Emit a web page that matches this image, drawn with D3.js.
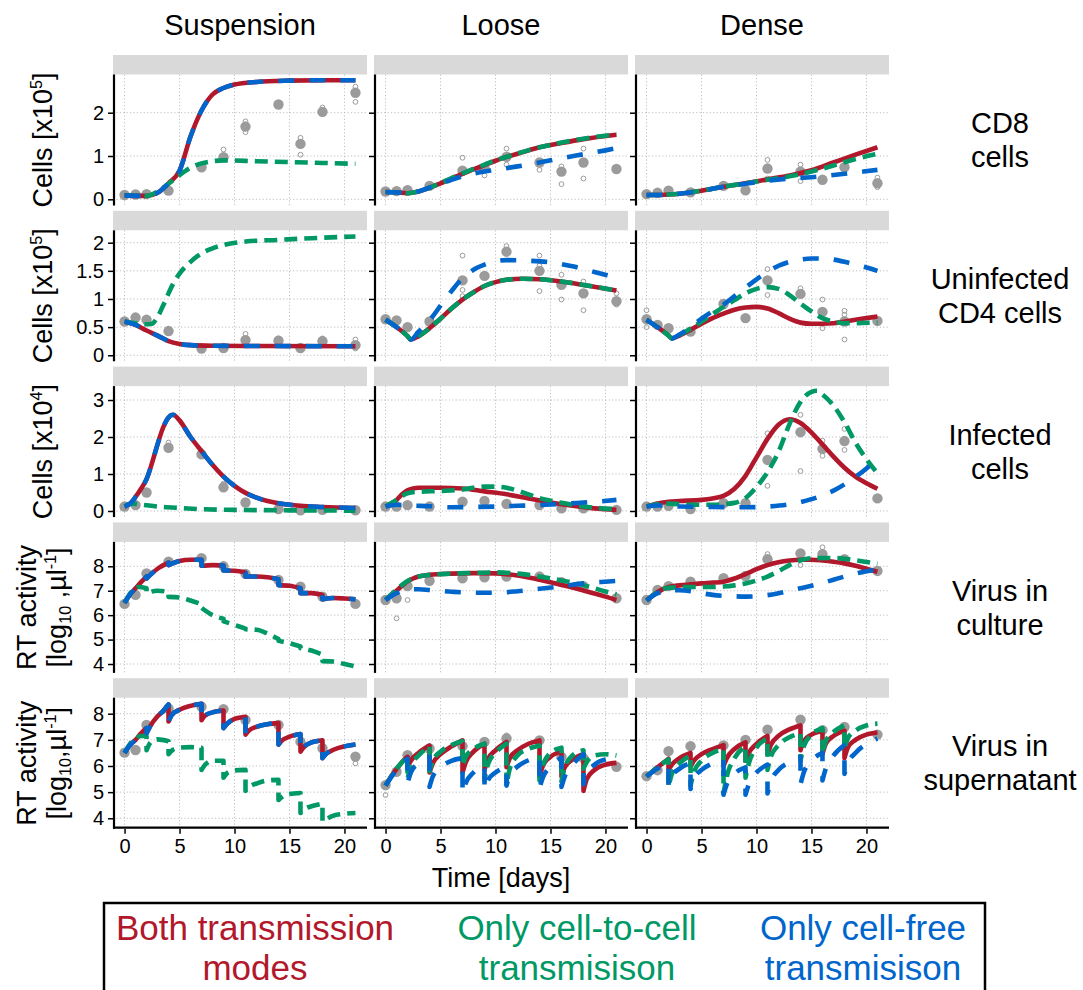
<!DOCTYPE html>
<html><head><meta charset="utf-8">
<script src="https://cdn.jsdelivr.net/npm/d3@7"></script>
<style>body{margin:0;background:#fff}svg{display:block}text{font-family:"Liberation Sans",Arial,Helvetica,sans-serif;fill:#000}</style>
</head><body><svg id="c" width="1083" height="990"></svg>
<script>
// ---------------- DATA ----------------
const days = [0,1,2,4,7,9,11,14,16,18,21];
const columns = ["Suspension","Loose","Dense"];
const xTicks = [0,5,10,15,20];

// Row 1: CD8 cells (x10^5)
const cd8Ticks = [0,1,2];
const cd8TickLabels = ["0","1","2"];
const cd8Lim = [-0.143, 2.882];
const cd8SuspMean = [0.10,0.11,0.12,0.20,0.74,0.97,1.68,2.19,1.28,2.02,2.46];
const cd8SuspReps = [[7,0.7],[9,1.15],[11,1.8],[11,1.55],[16,1.42],[16,1.03],[18,2.12],[18,1.97],[21,2.6],[21,2.25]];
const cd8SuspBoth = [[0,0.09],[1,0.08],[2,0.08],[3,0.15],[4,0.37],[5,0.66],[6,1.45],[7,2.05],[8,2.42],[9,2.57],[10,2.65],[12,2.71],[15,2.74],[18,2.75],[21,2.75]];
const cd8SuspCtc = [[0,0.09],[2,0.08],[3,0.18],[4,0.36],[5,0.56],[6,0.73],[7,0.83],[8,0.88],[9,0.9],[12,0.88],[15,0.86],[18,0.84],[21,0.82]];
const cd8SuspFree = [[0,0.09],[1,0.08],[2,0.08],[3,0.15],[4,0.37],[5,0.66],[6,1.45],[7,2.05],[8,2.42],[9,2.57],[10,2.65],[12,2.71],[15,2.74],[18,2.75],[21,2.75]];
const cd8LooseMean = [0.18,0.19,0.21,0.31,0.66,0.72,0.98,0.85,0.64,0.85,0.70];
const cd8LooseReps = [[7,0.96],[9,0.55],[11,1.17],[11,0.8],[14,0.68],[16,0.76],[16,0.35],[18,1.17],[18,0.48]];
const cd8LooseBoth = [[0,0.17],[1,0.16],[2,0.14],[3,0.18],[4,0.27],[5,0.37],[6,0.48],[7,0.59],[8,0.69],[9,0.79],[10,0.89],[11,0.98],[12,1.05],[14,1.2],[16,1.3],[18,1.39],[21,1.49]];
const cd8LooseCtc = [[0,0.17],[1,0.16],[2,0.14],[3,0.18],[4,0.27],[5,0.37],[6,0.49],[7,0.6],[8,0.7],[9,0.8],[10,0.9],[11,0.98],[12,1.06],[14,1.2],[16,1.31],[18,1.4],[21,1.5]];
const cd8LooseFree = [[0,0.17],[1,0.16],[2,0.14],[3,0.18],[4,0.27],[5,0.36],[6,0.45],[7,0.53],[8,0.59],[9,0.64],[10,0.68],[12,0.76],[14,0.85],[16,0.95],[18,1.04],[20,1.13],[21,1.18]];
const cd8DenseMean = [0.12,0.15,0.20,0.16,0.31,0.21,0.71,0.64,0.45,0.74,0.37];
const cd8DenseReps = [[11,0.91],[11,0.48],[14,0.8],[14,0.42],[21,0.5],[21,0.28]];
const cd8DenseBoth = [[0,0.1],[1,0.1],[2,0.11],[3,0.13],[5,0.2],[7,0.29],[9,0.37],[11,0.46],[13,0.55],[15,0.67],[17,0.85],[19,1.03],[21,1.2]];
const cd8DenseCtc = [[0,0.1],[1,0.1],[2,0.11],[3,0.13],[5,0.2],[7,0.29],[9,0.37],[11,0.45],[13,0.53],[15,0.64],[17,0.78],[19,0.93],[21,1.05]];
const cd8DenseFree = [[0,0.1],[1,0.1],[2,0.11],[3,0.13],[5,0.2],[7,0.29],[9,0.36],[11,0.43],[13,0.48],[15,0.51],[17,0.56],[19,0.62],[21,0.68]];

// Row 2: uninfected CD4 cells (x10^5)
const cd4Ticks = [0,0.5,1,1.5,2];
const cd4TickLabels = ["0","0.5","1","1.5","2"];
const cd4Lim = [-0.107, 2.22];
const cd4SuspMean = [0.60,0.67,0.63,0.43,0.12,0.13,0.27,0.26,0.13,0.25,0.18];
const cd4SuspReps = [[11,0.38],[14,0.3],[18,0.3],[21,0.28],[21,0.12]];
const cd4SuspBoth = [[0,0.6],[1,0.54],[2,0.44],[3,0.35],[4,0.25],[5,0.2],[6,0.18],[8,0.17],[12,0.165],[21,0.16]];
const cd4SuspCtc = [[0,0.6],[1,0.57],[2,0.55],[2.5,0.56],[3,0.68],[3.5,0.88],[4,1.1],[4.5,1.3],[5,1.45],[6,1.66],[7,1.81],[8,1.9],[9,1.96],[11,2.02],[14,2.05],[17,2.08],[21,2.11]];
const cd4SuspFree = [[0,0.6],[1,0.54],[2,0.44],[3,0.35],[4,0.25],[5,0.2],[6,0.18],[8,0.17],[12,0.165],[21,0.16]];
const cd4LooseMean = [0.64,0.62,0.50,0.60,1.33,1.41,1.84,1.50,1.25,1.10,0.96];
const cd4LooseReps = [[7,1.77],[7,1.16],[7,1.05],[11,1.94],[14,1.77],[14,1.59],[14,1.14],[16,1.43],[16,0.99],[18,1.31],[18,0.8],[21,1.1],[21,0.9]];
const cd4LooseBoth = [[0,0.63],[1,0.5],[2,0.34],[2.3,0.28],[3,0.34],[4,0.48],[5,0.65],[6,0.83],[7,0.99],[8,1.12],[9,1.23],[10,1.3],[11,1.34],[12.5,1.36],[14,1.35],[16,1.31],[18,1.25],[21,1.15]];
const cd4LooseCtc = [[0,0.63],[1,0.5],[2,0.34],[2.3,0.28],[3,0.34],[4,0.48],[5,0.65],[6,0.83],[7,0.99],[8,1.12],[9,1.23],[10,1.3],[11,1.34],[12.5,1.36],[14,1.35],[16,1.31],[18,1.25],[21,1.15]];
const cd4LooseFree = [[0,0.63],[1,0.5],[2,0.33],[2.3,0.28],[3,0.42],[4,0.62],[5,0.88],[6,1.14],[7,1.37],[8,1.52],[9,1.61],[10,1.67],[11,1.69],[13,1.68],[15,1.65],[17,1.58],[19,1.48],[21,1.38]];
const cd4DenseMean = [0.64,0.54,0.48,0.42,0.91,0.66,1.33,1.09,0.77,0.60,0.61];
const cd4DenseReps = [[0,0.8],[0,0.5],[11,1.53],[11,1.07],[14,1.19],[16,0.99],[16,0.48],[18,0.79],[18,0.72],[18,0.28]];
const cd4DenseBoth = [[0,0.63],[1,0.5],[2,0.35],[2.3,0.3],[3,0.35],[4,0.45],[5,0.56],[6,0.66],[7,0.74],[8,0.81],[9,0.85],[10,0.86],[11,0.83],[12,0.75],[13,0.65],[14,0.58],[15,0.56],[17,0.57],[19,0.63],[21,0.69]];
const cd4DenseCtc = [[0,0.63],[1,0.5],[2,0.35],[2.3,0.3],[3,0.36],[4,0.47],[5,0.6],[6,0.73],[7,0.86],[8,0.98],[9,1.1],[10,1.18],[11,1.21],[12,1.18],[13,1.07],[14,0.92],[15,0.78],[16,0.66],[17,0.6],[18,0.57],[21,0.58]];
const cd4DenseFree = [[0,0.63],[1,0.5],[2,0.35],[2.3,0.3],[3,0.37],[4,0.5],[5,0.65],[6,0.78],[7,0.9],[8,1.05],[9,1.2],[10,1.35],[11,1.48],[12,1.59],[13,1.66],[14,1.7],[15,1.72],[16,1.72],[17,1.7],[18,1.66],[19,1.61],[20,1.56],[21,1.5]];

// Row 3: infected cells (x10^4)
const infTicks = [0,1,2,3];
const infTickLabels = ["0","1","2","3"];
const infLim = [-0.165, 3.376];
const infSuspMean = [0.12,0.16,0.50,1.71,1.53,0.64,0.23,0.05,0.02,0.03,0.02];
const infSuspReps = [[4,1.85],[7,1.62],[9,0.74]];
const infSuspBoth = [[0,0.12],[0.5,0.2],[1,0.38],[1.5,0.6],[2,0.86],[2.5,1.3],[3,1.8],[3.5,2.25],[4,2.53],[4.4,2.6],[5,2.45],[6,2.0],[7,1.62],[8,1.25],[9,0.93],[10,0.68],[11,0.49],[12,0.36],[13,0.27],[14,0.21],[16,0.14],[18,0.11],[21,0.08]];
const infSuspCtc = [[0,0.13],[0.7,0.2],[1.5,0.17],[3,0.12],[5,0.08],[7,0.05],[10,0.03],[14,0.02],[21,0.01]];
const infSuspFree = [[0,0.12],[0.5,0.2],[1,0.38],[1.5,0.6],[2,0.86],[2.5,1.3],[3,1.8],[3.5,2.25],[4,2.53],[4.4,2.6],[5,2.45],[6,2.0],[7,1.62],[8,1.25],[9,0.93],[10,0.68],[11,0.49],[12,0.36],[13,0.27],[14,0.21],[16,0.14],[18,0.11],[21,0.08]];
const infLooseMean = [0.12,0.12,0.16,0.12,0.25,0.27,0.19,0.16,0.07,0.07,0.03];
const infLooseReps = [];
const infLooseBoth = [[0,0.12],[0.5,0.2],[1,0.3],[1.5,0.45],[2,0.56],[2.5,0.61],[3,0.63],[5,0.63],[7,0.61],[9,0.53],[11,0.45],[13,0.34],[15,0.23],[17,0.14],[19,0.07],[21,0.03]];
const infLooseCtc = [[0,0.12],[1,0.3],[2,0.48],[3,0.52],[5,0.54],[7,0.58],[8,0.63],[9,0.66],[10,0.66],[11,0.63],[12,0.55],[13,0.45],[14,0.35],[15,0.28],[16,0.22],[18,0.12],[21,0.05]];
const infLooseFree = [[0,0.12],[1,0.17],[2,0.15],[4,0.13],[6,0.1],[8,0.11],[10,0.12],[12,0.14],[14,0.16],[16,0.19],[18,0.23],[19.5,0.26],[21,0.3]];
const infDenseMean = [0.12,0.12,0.14,0.05,0.21,0.21,1.38,2.13,1.68,1.89,0.34];
const infDenseReps = [[11,2.1],[11,0.68],[14,2.6],[14,1.08],[16,1.9],[16,1.49],[18,2.22],[18,1.65]];
const infDenseBoth = [[0,0.12],[1,0.2],[2,0.25],[3,0.27],[5,0.3],[6,0.34],[7,0.41],[8,0.6],[9,0.95],[10,1.45],[11,1.95],[12,2.33],[13,2.48],[14,2.38],[15,2.12],[16,1.8],[17,1.47],[18,1.17],[19,0.93],[20,0.75],[21,0.6]];
const infDenseCtc = [[0,0.12],[1,0.18],[2,0.2],[4,0.17],[6,0.17],[8,0.22],[9,0.35],[10,0.65],[11,1.05],[12,1.6],[13,2.35],[14,2.95],[15,3.22],[15.5,3.25],[16,3.15],[17,2.85],[18,2.4],[19,1.85],[20,1.4],[21,1.02]];
const infDenseFree = [[0,0.12],[1,0.15],[3,0.12],[6,0.11],[9,0.1],[11,0.12],[13,0.18],[14,0.24],[15,0.32],[16,0.42],[17,0.55],[18,0.72],[19,0.92],[20,1.15],[21,1.42]];

// Row 4: virus in culture, RT activity (log10 /ul)
const rtcTicks = [4,5,6,7,8];
const rtcTickLabels = ["4","5","6","7","8"];
const rtcLim = [3.636, 8.999];
const rtcSuspMean = [6.46,6.83,7.71,8.19,8.33,8.00,7.69,7.44,7.17,6.76,6.46];
const rtcSuspReps = [];
const rtcSuspBoth = [
  [[0,6.5],[0.5,6.85],[1,7.1],[1.5,7.35],[2,7.58]],
  [[2,7.5],[3,7.9],[4,8.15]],
  [[4,8.05],[5,8.22],[6,8.27],[7,8.27]],
  [[7,8.02],[8,8.05],[9,8.03]],
  [[9,7.83],[10,7.82],[11,7.75]],
  [[11,7.58],[12,7.58],[13,7.55],[14,7.47]],
  [[14,7.23],[15,7.2],[16,7.1]],
  [[16,6.9],[17,6.9],[18,6.83]],
  [[18,6.65],[19,6.7],[20,6.68],[21,6.65]]];
const rtcSuspCtc = [
  [[0,6.5],[0.7,7.0],[1.3,7.15],[2,7.1]],
  [[2,6.9],[3,7.0],[4,6.95]],
  [[4,6.75],[5,6.72],[6,6.6],[7,6.45]],
  [[7,6.3],[8,6.0],[9,5.85]],
  [[9,5.75],[10,5.6],[11,5.45]],
  [[11,5.42],[12,5.4],[13,5.25],[14,5.02]],
  [[14,4.95],[15,4.85],[16,4.72]],
  [[16,4.65],[17,4.55],[18,4.38]],
  [[18,4.12],[19,4.1],[20,4.0],[21,3.9]]];
const rtcSuspFree = [
  [[0,6.5],[0.5,6.85],[1,7.1],[1.5,7.35],[2,7.58]],
  [[2,7.5],[3,7.9],[4,8.15]],
  [[4,8.05],[5,8.22],[6,8.27],[7,8.27]],
  [[7,8.02],[8,8.05],[9,8.03]],
  [[9,7.83],[10,7.82],[11,7.75]],
  [[11,7.58],[12,7.58],[13,7.55],[14,7.47]],
  [[14,7.23],[15,7.2],[16,7.1]],
  [[16,6.9],[17,6.9],[18,6.83]],
  [[18,6.65],[19,6.7],[20,6.68],[21,6.65]]];
const rtcLooseMean = [6.62,6.69,7.19,7.41,7.51,7.55,7.58,7.58,7.35,7.19,6.69];
const rtcLooseReps = [[1,5.87],[2,6.62]];
const rtcLooseBoth = [[0,6.62],[0.5,6.82],[1,7.0],[1.5,7.2],[2,7.38],[2.5,7.5],[3,7.58],[4,7.65],[6,7.7],[8,7.72],[10,7.71],[11,7.68],[12,7.62],[13,7.54],[14,7.45],[15,7.35],[16,7.24],[17,7.13],[18,7.01],[19,6.89],[20,6.76],[21,6.62]];
const rtcLooseCtc = [[0,6.62],[1,7.05],[2,7.4],[3,7.58],[4,7.65],[6,7.7],[8,7.73],[10,7.75],[12,7.7],[13,7.65],[14,7.58],[15,7.5],[16,7.42],[17,7.33],[18,7.23],[19,7.1],[20,6.97],[21,6.85]];
const rtcLooseFree = [[0,6.62],[1,6.9],[2,7.05],[3,7.06],[4,7.03],[6,6.96],[8,6.92],[10,6.92],[12,6.98],[14,7.08],[16,7.18],[18,7.3],[20,7.37],[21,7.4]];
const rtcDenseMean = [6.62,7.03,7.19,7.37,7.51,7.60,8.29,8.53,8.50,8.29,7.81];
const rtcDenseReps = [[11,8.5],[14,8.05],[16,8.78]];
const rtcDenseBoth = [[0,6.6],[1,6.95],[2,7.15],[3,7.22],[4,7.26],[5,7.3],[6,7.33],[7,7.37],[8,7.5],[9,7.68],[10,7.88],[11,8.05],[12,8.17],[13,8.24],[14,8.27],[15,8.27],[16,8.24],[17,8.19],[18,8.12],[19,8.02],[20,7.9],[21,7.78]];
const rtcDenseCtc = [[0,6.6],[1,6.95],[2,7.12],[4,7.15],[6,7.15],[7,7.17],[8,7.22],[9,7.3],[10,7.42],[11,7.58],[12,7.8],[13,8.05],[14,8.25],[15,8.33],[17,8.34],[19,8.25],[21,8.1]];
const rtcDenseFree = [[0,6.6],[1,6.9],[2,7.0],[3,7.02],[4,6.98],[5,6.9],[6,6.83],[7,6.79],[8,6.77],[9,6.76],[10,6.77],[11,6.82],[12,6.9],[13,7.0],[14,7.1],[15,7.2],[16,7.32],[17,7.45],[18,7.58],[19,7.7],[20,7.8],[21,7.88]];

// Row 5: virus in supernatant, RT activity (log10 /ul)
const rtsTicks = [4,5,6,7,8];
const rtsTickLabels = ["4","5","6","7","8"];
const rtsLim = [3.602, 8.612];
const rtsSuspMean = [6.51,6.61,7.57,8.20,8.27,8.17,7.76,7.57,6.93,6.68,6.36];
const rtsSuspReps = [[21,6.1]];
const rtsSuspBoth = [
  [[0,6.5],[0.5,6.8],[1,7.0],[1.5,7.25],[2,7.45]],
  [[2,7.25],[2.3,7.5],[3,7.9],[3.5,8.1],[4,8.35]],
  [[4,7.7],[4.3,7.95],[5,8.15],[6,8.3],[7,8.38]],
  [[7,7.75],[7.3,7.92],[8,8.05],[9,8.12]],
  [[9,7.45],[9.3,7.6],[10,7.8],[11,7.88]],
  [[11,7.2],[11.3,7.35],[12,7.5],[13,7.6],[14,7.64]],
  [[14,6.82],[14.3,6.97],[15,7.12],[16,7.22]],
  [[16,6.55],[16.3,6.72],[17,6.9],[18,6.98]],
  [[18,6.3],[18.3,6.45],[19,6.62],[20,6.75],[21,6.82]]];
const rtsSuspCtc = [
  [[0,6.5],[0.5,6.85],[1,7.05],[1.5,7.15],[2,7.15]],
  [[2,6.6],[2.4,6.92],[3,7.02],[4,6.95]],
  [[4,6.45],[4.4,6.62],[5,6.7],[6,6.72],[7,6.7]],
  [[7,5.85],[7.4,6.08],[8,6.2],[9,6.2]],
  [[9,5.55],[9.4,5.75],[10,5.83],[11,5.85]],
  [[11,5.05],[11.5,5.25],[12,5.33],[13,5.45],[14,5.47]],
  [[14,4.7],[14.5,4.87],[15,4.93],[16,4.97]],
  [[16,4.2],[16.5,4.38],[17,4.46],[18,4.56]],
  [[18,3.88],[18.5,4.0],[19,4.1],[20,4.17],[21,4.2]]];
const rtsSuspFree = [
  [[0,6.5],[0.5,6.8],[1,7.0],[1.5,7.25],[2,7.45]],
  [[2,7.25],[2.3,7.5],[3,7.9],[3.5,8.1],[4,8.35]],
  [[4,7.7],[4.3,7.95],[5,8.15],[6,8.3],[7,8.38]],
  [[7,7.75],[7.3,7.92],[8,8.05],[9,8.12]],
  [[9,7.45],[9.3,7.6],[10,7.8],[11,7.88]],
  [[11,7.2],[11.3,7.35],[12,7.5],[13,7.6],[14,7.64]],
  [[14,6.82],[14.3,6.97],[15,7.12],[16,7.22]],
  [[16,6.55],[16.3,6.72],[17,6.9],[18,6.98]],
  [[18,6.3],[18.3,6.45],[19,6.62],[20,6.75],[21,6.82]]];
const rtsLooseMean = [5.27,5.78,6.41,6.67,6.76,6.92,7.05,6.98,6.35,6.30,5.97];
const rtsLooseReps = [[0,4.89],[11,7.17]];
const rtsLooseBoth = [
  [[0,5.25],[0.5,5.6],[1,5.88],[1.5,6.15],[2,6.35]],
  [[2,5.95],[2.3,6.2],[3,6.5],[4,6.78]],
  [[4,5.75],[4.3,6.1],[5,6.45],[6,6.75],[7,6.98]],
  [[7,5.75],[7.3,6.15],[8,6.55],[9,6.85]],
  [[9,5.85],[9.3,6.25],[10,6.6],[11,6.92]],
  [[11,5.95],[11.3,6.3],[12,6.6],[13,6.85],[14,6.98]],
  [[14,5.6],[14.3,6.0],[15,6.35],[16,6.55]],
  [[16,5.6],[16.3,5.95],[17,6.25],[18,6.45]],
  [[18,5.05],[18.3,5.5],[19,5.85],[20,6.05],[21,6.12]]];
const rtsLooseCtc = [
  [[0,5.25],[1,5.9],[2,6.35]],
  [[2,5.5],[2.3,6.0],[3,6.4],[4,6.75]],
  [[4,5.8],[4.3,6.2],[5,6.55],[6,6.8],[7,6.95]],
  [[7,6.0],[7.3,6.35],[8,6.65],[9,6.85]],
  [[9,5.45],[9.3,6.05],[10,6.5],[11,6.85]],
  [[11,5.25],[11.3,5.9],[12,6.4],[13,6.65],[14,6.78]],
  [[14,5.45],[14.3,6.0],[15,6.5],[16,6.7]],
  [[16,5.4],[16.3,5.95],[17,6.4],[18,6.6]],
  [[18,5.9],[18.3,6.15],[19,6.4],[20,6.45],[21,6.4]]];
const rtsLooseFree = [
  [[0,5.25],[1,5.85],[2,6.28]],
  [[2,5.35],[2.3,5.75],[3,6.1],[4,6.35]],
  [[4,5.2],[4.3,5.6],[5,5.95],[6,6.2],[7,6.3]],
  [[7,4.95],[7.3,5.35],[8,5.75],[9,6.02]],
  [[9,5.1],[9.3,5.45],[10,5.75],[11,5.97]],
  [[11,5.25],[11.3,5.65],[12,5.98],[13,6.22],[14,6.35]],
  [[14,5.15],[14.3,5.55],[15,5.98],[16,6.32]],
  [[16,5.2],[16.3,5.6],[17,6.05],[18,6.45]],
  [[18,5.3],[18.3,5.7],[19,6.05],[20,6.25],[21,6.3]]];
const rtsDenseMean = [5.61,5.84,6.57,6.76,6.79,7.00,7.39,7.77,7.37,7.49,7.20];
const rtsDenseReps = [];
const rtsDenseBoth = [
  [[0,5.6],[1,5.95],[2,6.28]],
  [[2,5.85],[2.3,6.05],[3,6.3],[4,6.5]],
  [[4,5.97],[4.3,6.2],[5,6.45],[6,6.65],[7,6.8]],
  [[7,6.0],[7.3,6.3],[8,6.65],[9,6.9]],
  [[9,6.2],[9.3,6.5],[10,6.85],[11,7.15]],
  [[11,6.45],[11.3,6.8],[12,7.15],[13,7.4],[14,7.55]],
  [[14,6.6],[14.3,6.95],[15,7.2],[16,7.35]],
  [[16,6.45],[16.3,6.85],[17,7.15],[18,7.35]],
  [[18,6.3],[18.3,6.7],[19,7.0],[20,7.2],[21,7.28]]];
const rtsDenseCtc = [
  [[0,5.6],[1,5.95],[2,6.25]],
  [[2,5.2],[2.3,5.7],[3,6.1],[4,6.4]],
  [[4,5.25],[4.3,5.75],[5,6.2],[6,6.5],[7,6.65]],
  [[7,4.95],[7.3,5.6],[8,6.3],[9,6.75]],
  [[9,5.55],[9.3,6.1],[10,6.7],[11,7.05]],
  [[11,5.85],[11.3,6.35],[12,6.8],[13,7.1],[14,7.25]],
  [[14,6.2],[14.3,6.75],[15,7.2],[16,7.45]],
  [[16,6.45],[16.3,6.95],[17,7.3],[18,7.55]],
  [[18,6.65],[18.3,7.05],[19,7.35],[20,7.55],[21,7.62]]];
const rtsDenseFree = [
  [[0,5.6],[1,5.9],[2,6.1]],
  [[2,5.25],[2.3,5.6],[3,5.9],[4,6.12]],
  [[4,5.12],[4.3,5.5],[5,5.85],[6,6.1],[7,6.25]],
  [[7,4.9],[7.3,5.3],[8,5.7],[9,5.95]],
  [[9,4.9],[9.3,5.3],[10,5.75],[11,6.05]],
  [[11,4.95],[11.3,5.4],[12,5.85],[13,6.15],[14,6.35]],
  [[14,5.3],[14.3,5.75],[15,6.2],[16,6.5]],
  [[16,5.45],[16.3,5.9],[17,6.4],[18,6.8]],
  [[18,5.7],[18.3,6.1],[19,6.5],[20,6.85],[21,7.05]]];

// ---------------- LAYOUT / STYLE ----------------
const FONT = 27;
const colors = {both:"#B2182B", ctc:"#009966", free:"#0066CC"};
const dashes = {both:null, ctc:"13,7", free:"16,15"};
const colX = [113,374,635], panelW = 254;
const stripTop0 = 55, rowPitch = 155.8, stripH = 19.5, plotH = 131;

const rowDefs = [
  {ticks:cd8Ticks, labels:cd8TickLabels, lim:cd8Lim, right:["CD8","cells"], ytitle:[[{t:"Cells [x10"},{t:"5",sup:1},{t:"]"}]],
   panels:[[cd8SuspMean,cd8SuspReps,cd8SuspBoth,cd8SuspCtc,cd8SuspFree],[cd8LooseMean,cd8LooseReps,cd8LooseBoth,cd8LooseCtc,cd8LooseFree],[cd8DenseMean,cd8DenseReps,cd8DenseBoth,cd8DenseCtc,cd8DenseFree]]},
  {ticks:cd4Ticks, labels:cd4TickLabels, lim:cd4Lim, right:["Uninfected","CD4 cells"], ytitle:[[{t:"Cells [x10"},{t:"5",sup:1},{t:"]"}]],
   panels:[[cd4SuspMean,cd4SuspReps,cd4SuspBoth,cd4SuspCtc,cd4SuspFree],[cd4LooseMean,cd4LooseReps,cd4LooseBoth,cd4LooseCtc,cd4LooseFree],[cd4DenseMean,cd4DenseReps,cd4DenseBoth,cd4DenseCtc,cd4DenseFree]]},
  {ticks:infTicks, labels:infTickLabels, lim:infLim, right:["Infected","cells"], ytitle:[[{t:"Cells [x10"},{t:"4",sup:1},{t:"]"}]],
   panels:[[infSuspMean,infSuspReps,infSuspBoth,infSuspCtc,infSuspFree],[infLooseMean,infLooseReps,infLooseBoth,infLooseCtc,infLooseFree],[infDenseMean,infDenseReps,infDenseBoth,infDenseCtc,infDenseFree]]},
  {ticks:rtcTicks, labels:rtcTickLabels, lim:rtcLim, right:["Virus in","culture"], ytitle:[[{t:"RT activity"}],[{t:"[log"},{t:"10",sub:1},{t:" ,µl"},{t:"-1",sup:1},{t:"]"}]],
   panels:[[rtcSuspMean,rtcSuspReps,rtcSuspBoth,rtcSuspCtc,rtcSuspFree],[rtcLooseMean,rtcLooseReps,rtcLooseBoth,rtcLooseCtc,rtcLooseFree],[rtcDenseMean,rtcDenseReps,rtcDenseBoth,rtcDenseCtc,rtcDenseFree]]},
  {ticks:rtsTicks, labels:rtsTickLabels, lim:rtsLim, right:["Virus in","supernatant"], ytitle:[[{t:"RT activity"}],[{t:"[log"},{t:"10",sub:1},{t:",µl"},{t:"-1",sup:1},{t:"]"}]],
   panels:[[rtsSuspMean,rtsSuspReps,rtsSuspBoth,rtsSuspCtc,rtsSuspFree],[rtsLooseMean,rtsLooseReps,rtsLooseBoth,rtsLooseCtc,rtsLooseFree],[rtsDenseMean,rtsDenseReps,rtsDenseBoth,rtsDenseCtc,rtsDenseFree]]}
];

const svg = d3.select("#c");
svg.append("rect").attr("width",1083).attr("height",990).attr("fill","#fff");
const defs = svg.append("defs");

function rich(sel, parts, fs){
  let shift = 0;
  parts.forEach(p=>{
    const ts = sel.append("tspan").text(p.t);
    let target = 0;
    if (p.sup){ ts.attr("font-size", fs*0.6); target = -fs*0.38; }
    else if (p.sub){ ts.attr("font-size", fs*0.6); target = fs*0.18; }
    if (target !== shift){ ts.attr("dy", target - shift); shift = target; }
  });
}

columns.forEach((c,i)=>{
  svg.append("text").attr("x", colX[i]+panelW/2).attr("y", 25+29*0.35)
    .attr("text-anchor","middle").attr("font-size",29).text(c);
});

const toSegs = a => (a.length && Array.isArray(a[0][0])) ? a : [a];

rowDefs.forEach((R, r)=>{
  const sTop = stripTop0 + rowPitch*r;
  const pTop = sTop + stripH, pBot = pTop + plotH;
  const y = d3.scaleLinear().domain(R.lim).range([pBot, pTop]);
  R.panels.forEach((P, c)=>{
    const x0 = colX[c];
    const x = d3.scaleLinear().domain([-1.05, 22.05]).range([x0, x0+panelW]);
    const g = svg.append("g");
    g.append("rect").attr("x",x0).attr("y",sTop).attr("width",panelW).attr("height",stripH).attr("fill","#d9d9d9");
    const gg = g.append("g").attr("stroke","#b8b8b8").attr("stroke-width",0.9).attr("stroke-dasharray","1.2,2.2");
    xTicks.forEach(t=>gg.append("line").attr("x1",x(t)).attr("x2",x(t)).attr("y1",pTop).attr("y2",pBot));
    R.ticks.forEach(t=>gg.append("line").attr("x1",x0).attr("x2",x0+panelW).attr("y1",y(t)).attr("y2",y(t)));
    const cid = `clip${r}${c}`;
    defs.append("clipPath").attr("id",cid).append("rect").attr("x",x0).attr("y",pTop).attr("width",panelW).attr("height",plotH);
    const pg = g.append("g").attr("clip-path",`url(#${cid})`);
    const [mean, reps, both, ctc, free] = P;
    pg.selectAll("circle.m").data(days.map((d,i)=>[d,mean[i]])).join("circle")
      .attr("cx",d=>x(d[0])).attr("cy",d=>y(d[1])).attr("r",5.2).attr("fill","#9b9b9b");
    pg.selectAll("circle.r").data(reps).join("circle")
      .attr("cx",d=>x(d[0])).attr("cy",d=>y(d[1])).attr("r",2.4).attr("fill","none").attr("stroke","#9b9b9b").attr("stroke-width",1);
    const line = d3.line().x(d=>x(d[0])).y(d=>y(d[1])).curve(d3.curveMonotoneX);
    const pathOf = a => toSegs(a).map((s,i)=>{ const d=line(s); return i? "L"+d.slice(1) : d; }).join("");
    [["both",both],["ctc",ctc],["free",free]].forEach(([k,a])=>{
      const p = pg.append("path").attr("d",pathOf(a)).attr("fill","none")
        .attr("stroke",colors[k]).attr("stroke-width",4.6).attr("stroke-linejoin","round");
      if (dashes[k]) p.attr("stroke-dasharray",dashes[k]);
    });
    const ya = g.append("g").attr("transform",`translate(${x0},0)`)
      .call(d3.axisLeft(y).tickValues(R.ticks).tickSize(5).tickPadding(4).tickFormat((d,i)=> c===0 ? R.labels[i] : ""));
    ya.select(".domain").remove();
    ya.selectAll(".tick line").attr("stroke","#000").attr("stroke-width",1.5);
    ya.selectAll(".tick text").attr("font-size",20).attr("font-family",null).attr("fill","#000");
    g.append("line").attr("x1",x0+1).attr("x2",x0+1).attr("y1",pTop).attr("y2",pBot).attr("stroke","#000").attr("stroke-width",2.2);
    if (r === rowDefs.length-1){
      const xa = g.append("g").attr("transform",`translate(0,${pBot})`)
        .call(d3.axisBottom(x).tickValues(xTicks).tickSize(5).tickPadding(5).tickFormat(d3.format("d")));
      xa.select(".domain").remove();
      xa.selectAll(".tick line").attr("stroke","#000").attr("stroke-width",1.5);
      xa.selectAll(".tick text").attr("font-size",20).attr("font-family",null).attr("fill","#000");
      g.append("line").attr("x1",x0).attr("x2",x0+panelW).attr("y1",pBot-1).attr("y2",pBot-1).attr("stroke","#000").attr("stroke-width",2.2);
    }
  });
  const cy = (pTop+pBot)/2;
  const nL = R.ytitle.length;
  R.ytitle.forEach((parts,i)=>{
    const off = nL===1 ? 0 : (i===0 ? -15 : 15);
    const t = svg.append("text").attr("transform",`translate(${nL===1?43:42},${cy}) rotate(-90)`)
      .attr("y", off + FONT*0.35).attr("text-anchor","middle").attr("font-size",FONT);
    rich(t, parts, FONT);
  });
  R.right.forEach((s,i)=>{
    svg.append("text").attr("x",1000).attr("y", cy + (i===0?-17:17) + 29*0.35)
      .attr("text-anchor","middle").attr("font-size",29).text(s);
  });
});

svg.append("text").attr("x",501).attr("y",878+FONT*0.35).attr("text-anchor","middle").attr("font-size",FONT).text("Time [days]");

svg.append("rect").attr("x",104).attr("y",903).attr("width",881).attr("height",100)
  .attr("fill","#fff").attr("stroke","#000").attr("stroke-width",2.5);
const legendItems = [
  {k:"both", lines:["Both transmission","modes"], cx:255},
  {k:"ctc", lines:["Only cell-to-cell","transmisison"], cx:577},
  {k:"free", lines:["Only cell-free","transmisison"], cx:863}
];
const LF = 35;
legendItems.forEach(L=>{
  L.lines.forEach((s,i)=>{
    svg.append("text").attr("x",L.cx).attr("y",(i===0?928:968)+LF*0.35)
      .attr("text-anchor","middle").attr("font-size",LF).style("fill",colors[L.k]).text(s);
  });
});
</script></body></html>
